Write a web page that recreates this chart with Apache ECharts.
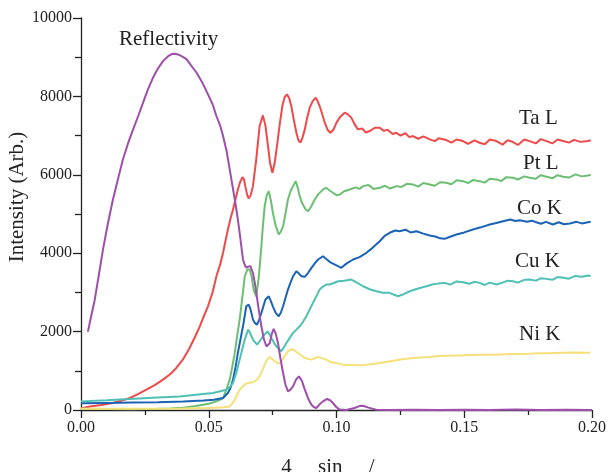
<!DOCTYPE html>
<html>
<head>
<meta charset="utf-8">
<script src="https://cdn.jsdelivr.net/npm/echarts@6/dist/echarts.min.js"></script>
<style>
html,body{margin:0;padding:0;background:#fff;}
#chart{width:610px;height:472px;}
</style>
</head>
<body>
<div id="chart"></div>
<script>
// ---- data (x = 4πsinθ/λ, y = intensity) ----
const xTicks = [0, 0.05, 0.10, 0.15, 0.20];
const yTicks = [0, 2000, 4000, 6000, 8000, 10000];
const seriesNames = ['Ta L', 'Pt L', 'Co K', 'Cu K', 'Ni K', 'Reflectivity'];

const reflectivity = [[0.0027,2000],[0.0040,2400],[0.0054,2820],[0.0070,3450],[0.0086,4090],[0.0105,4750],[0.0125,5370],[0.0145,5900],[0.0164,6390],[0.0184,6800],[0.0204,7160],[0.0224,7500],[0.0243,7840],[0.0262,8180],[0.0282,8480],[0.0300,8700],[0.0321,8900],[0.0340,9020],[0.0355,9080],[0.0367,9090],[0.0380,9070],[0.0395,9020],[0.0413,8950],[0.0430,8800],[0.0452,8610],[0.0475,8350],[0.0497,8050],[0.0515,7800],[0.0530,7500],[0.0545,7250],[0.0556,6990],[0.0570,6600],[0.0582,6140],[0.0592,5750],[0.0602,5370],[0.0612,4950],[0.0621,4520],[0.0628,4150],[0.0634,3840],[0.0641,3700],[0.0647,3630],[0.0655,3660],[0.0663,3670],[0.0673,3500],[0.0680,3250],[0.0686,2990],[0.0696,2550],[0.0706,2135],[0.0716,1800],[0.0726,1620],[0.0733,1650],[0.0739,1710],[0.0747,1950],[0.0754,2070],[0.0762,1950],[0.0771,1710],[0.0781,1300],[0.0791,945],[0.0800,650],[0.0810,475],[0.0820,520],[0.0830,603],[0.0842,780],[0.0853,858],[0.0865,740],[0.0876,518],[0.0890,280],[0.0902,135],[0.0912,70],[0.0921,51],[0.0935,150],[0.0947,220],[0.0963,281],[0.0975,250],[0.0986,179],[0.1000,70],[0.1013,10],[0.1039,0],[0.1070,50],[0.1090,100],[0.1104,110],[0.1125,60],[0.1156,5],[0.1200,0],[0.1300,5],[0.1400,0],[0.1500,5],[0.1600,0],[0.1700,10],[0.1800,0],[0.1900,5],[0.2000,0]];

const taL = [[0.000,40],[0.0034,90],[0.0080,130],[0.0125,180],[0.0160,240],[0.0191,306],[0.0225,410],[0.0256,518],[0.0290,640],[0.0321,774],[0.0350,920],[0.0373,1073],[0.0400,1300],[0.0425,1583],[0.0445,1850],[0.0465,2135],[0.0480,2380],[0.0497,2646],[0.0515,3000],[0.0530,3412],[0.0545,3720],[0.0556,4010],[0.0565,4300],[0.0575,4605],[0.0585,4880],[0.0595,5116],[0.0605,5380],[0.0614,5627],[0.0623,5820],[0.0632,5940],[0.0638,5880],[0.0643,5711],[0.0650,5500],[0.0656,5397],[0.0664,5480],[0.0673,5711],[0.0686,6400],[0.0699,7243],[0.0712,7516],[0.0722,7250],[0.0732,6733],[0.0740,6300],[0.0749,6053],[0.0758,6300],[0.0767,6733],[0.0778,7300],[0.0788,7754],[0.0797,7980],[0.0806,8053],[0.0815,7950],[0.0823,7754],[0.0833,7400],[0.0843,7074],[0.0851,6880],[0.0859,6819],[0.0867,6950],[0.0876,7159],[0.0885,7450],[0.0895,7713],[0.0907,7880],[0.0919,7968],[0.0926,7880],[0.0934,7754],[0.0944,7550],[0.0954,7330],[0.0965,7150],[0.0976,7074],[0.0988,7150],[0.1000,7330],[0.1015,7480],[0.1032,7585],[0.1045,7540],[0.1058,7458],[0.1070,7300],[0.1084,7159],[0.1100,7180],[0.1115,7080],[0.1130,7116],[0.1150,7200],[0.1169,7202],[0.1185,7120],[0.1200,7150],[0.1220,7040],[0.1234,7074],[0.1250,7000],[0.1270,7060],[0.1285,6960],[0.1299,6988],[0.1320,6920],[0.1340,6980],[0.1365,6903],[0.1385,6860],[0.1400,6930],[0.1430,6886],[0.1450,6820],[0.1470,6900],[0.1495,6860],[0.1515,6790],[0.1540,6880],[0.1560,6818],[0.1580,6780],[0.1600,6900],[0.1626,6860],[0.1650,6770],[0.1670,6880],[0.1691,6835],[0.1710,6760],[0.1735,6900],[0.1756,6860],[0.1780,6800],[0.1800,6910],[0.1822,6860],[0.1845,6800],[0.1865,6900],[0.1887,6860],[0.1910,6820],[0.1930,6890],[0.1955,6840],[0.1984,6860],[0.1995,6880]];

const ptL = [[0.000,30],[0.0100,25],[0.0200,20],[0.0300,30],[0.0350,40],[0.0400,60],[0.0450,100],[0.0500,160],[0.0530,220],[0.0556,300],[0.0569,518],[0.0582,774],[0.0592,1100],[0.0602,1456],[0.0611,1880],[0.0621,2306],[0.0631,2850],[0.0641,3412],[0.0651,3583],[0.0660,3583],[0.0668,3400],[0.0676,3050],[0.0686,2901],[0.0696,3400],[0.0706,4178],[0.0712,4700],[0.0719,5200],[0.0727,5480],[0.0735,5583],[0.0743,5350],[0.0751,5031],[0.0762,4700],[0.0774,4477],[0.0782,4550],[0.0791,4689],[0.0800,5000],[0.0810,5371],[0.0820,5580],[0.0830,5711],[0.0840,5838],[0.0848,5680],[0.0856,5455],[0.0864,5300],[0.0872,5200],[0.0880,5110],[0.0889,5072],[0.0900,5180],[0.0915,5371],[0.0928,5500],[0.0941,5583],[0.0950,5640],[0.0960,5668],[0.0973,5600],[0.0986,5541],[0.1000,5480],[0.1013,5498],[0.1030,5580],[0.1052,5626],[0.1075,5680],[0.1090,5640],[0.1104,5711],[0.1125,5740],[0.1145,5640],[0.1169,5668],[0.1190,5720],[0.1210,5650],[0.1234,5711],[0.1255,5690],[0.1275,5770],[0.1299,5754],[0.1320,5700],[0.1340,5790],[0.1365,5754],[0.1385,5720],[0.1405,5810],[0.1430,5796],[0.1450,5760],[0.1470,5860],[0.1495,5838],[0.1515,5790],[0.1535,5870],[0.1560,5838],[0.1580,5800],[0.1600,5900],[0.1626,5882],[0.1645,5840],[0.1665,5940],[0.1691,5925],[0.1710,5880],[0.1735,5960],[0.1756,5925],[0.1780,5900],[0.1800,5990],[0.1822,5950],[0.1845,5910],[0.1865,5990],[0.1887,5950],[0.1910,5930],[0.1935,6010],[0.1960,5960],[0.1984,5984],[0.1995,6000]];

const coK = [[0.000,170],[0.0100,180],[0.0200,190],[0.0300,200],[0.0400,215],[0.0480,240],[0.0520,263],[0.0556,306],[0.0575,434],[0.0585,560],[0.0595,774],[0.0605,1100],[0.0614,1456],[0.0624,1800],[0.0634,2135],[0.0647,2646],[0.0656,2689],[0.0662,2600],[0.0667,2477],[0.0673,2306],[0.0680,2222],[0.0689,2178],[0.0697,2300],[0.0706,2477],[0.0714,2650],[0.0722,2817],[0.0735,2901],[0.0743,2780],[0.0751,2646],[0.0762,2480],[0.0774,2390],[0.0782,2480],[0.0791,2646],[0.0800,2850],[0.0810,3072],[0.0820,3250],[0.0830,3412],[0.0843,3540],[0.0853,3480],[0.0863,3412],[0.0876,3397],[0.0889,3500],[0.0902,3627],[0.0915,3740],[0.0928,3839],[0.0947,3923],[0.0960,3850],[0.0973,3780],[0.0990,3720],[0.1006,3668],[0.1019,3627],[0.1040,3740],[0.1065,3839],[0.1090,3900],[0.1117,4010],[0.1140,4130],[0.1169,4306],[0.1190,4450],[0.1208,4521],[0.1230,4580],[0.1247,4561],[0.1270,4600],[0.1290,4530],[0.1313,4561],[0.1340,4500],[0.1365,4451],[0.1390,4420],[0.1405,4380],[0.1423,4367],[0.1445,4420],[0.1469,4477],[0.1500,4530],[0.1534,4605],[0.1565,4660],[0.1600,4733],[0.1625,4770],[0.1652,4817],[0.1680,4860],[0.1700,4820],[0.1717,4842],[0.1745,4800],[0.1765,4830],[0.1782,4791],[0.1800,4750],[0.1820,4800],[0.1847,4733],[0.1870,4790],[0.1890,4740],[0.1913,4758],[0.1940,4800],[0.1960,4760],[0.1984,4791],[0.1995,4800]];

const cuK = [[0.000,220],[0.0100,250],[0.0191,281],[0.0300,320],[0.0386,347],[0.0450,390],[0.0517,434],[0.0569,518],[0.0582,580],[0.0595,690],[0.0608,950],[0.0621,1285],[0.0631,1550],[0.0641,1796],[0.0654,2051],[0.0663,1950],[0.0673,1796],[0.0689,1668],[0.0700,1760],[0.0712,1880],[0.0730,2007],[0.0738,1930],[0.0745,1839],[0.0755,1720],[0.0765,1624],[0.0784,1497],[0.0794,1600],[0.0804,1711],[0.0817,1840],[0.0830,1967],[0.0843,2050],[0.0856,2135],[0.0869,2250],[0.0882,2390],[0.0895,2560],[0.0908,2733],[0.0921,2900],[0.0934,3072],[0.0947,3150],[0.0960,3200],[0.0973,3200],[0.0990,3240],[0.1006,3284],[0.1030,3300],[0.1058,3328],[0.1080,3250],[0.1104,3157],[0.1130,3080],[0.1156,3029],[0.1180,2990],[0.1208,2988],[0.1225,2940],[0.1241,2901],[0.1265,2960],[0.1287,3029],[0.1310,3080],[0.1330,3120],[0.1352,3157],[0.1375,3200],[0.1400,3230],[0.1423,3243],[0.1445,3200],[0.1470,3280],[0.1495,3259],[0.1520,3220],[0.1540,3270],[0.1560,3243],[0.1580,3190],[0.1600,3250],[0.1626,3200],[0.1650,3250],[0.1670,3300],[0.1691,3284],[0.1710,3250],[0.1735,3320],[0.1756,3328],[0.1780,3300],[0.1800,3360],[0.1822,3345],[0.1845,3320],[0.1865,3390],[0.1887,3371],[0.1910,3350],[0.1935,3420],[0.1960,3400],[0.1984,3430],[0.1995,3420]];

const niK = [[0.000,30],[0.0200,30],[0.0400,40],[0.0500,51],[0.0560,70],[0.0582,92],[0.0592,170],[0.0602,263],[0.0611,390],[0.0621,518],[0.0631,590],[0.0641,646],[0.0654,690],[0.0668,700],[0.0680,730],[0.0690,780],[0.0699,858],[0.0709,1000],[0.0719,1157],[0.0729,1290],[0.0739,1354],[0.0748,1300],[0.0758,1241],[0.0774,1183],[0.0784,1230],[0.0793,1328],[0.0801,1420],[0.0810,1497],[0.0827,1558],[0.0838,1510],[0.0849,1456],[0.0862,1390],[0.0876,1328],[0.0890,1300],[0.0902,1285],[0.0915,1320],[0.0928,1354],[0.0940,1330],[0.0954,1303],[0.0967,1260],[0.0980,1216],[0.1000,1200],[0.1025,1157],[0.1060,1150],[0.1104,1139],[0.1135,1170],[0.1169,1200],[0.1200,1230],[0.1234,1267],[0.1265,1300],[0.1299,1328],[0.1330,1340],[0.1365,1354],[0.1400,1375],[0.1430,1387],[0.1460,1390],[0.1495,1396],[0.1530,1405],[0.1560,1412],[0.1600,1410],[0.1626,1412],[0.1660,1425],[0.1691,1430],[0.1720,1430],[0.1756,1437],[0.1790,1445],[0.1822,1450],[0.1850,1455],[0.1887,1460],[0.1930,1465],[0.1984,1460],[0.1995,1470]];

const seriesData = [taL, ptL, coK, cuK, niK, reflectivity];
const colors = ['#ef4a4a', '#6cbf72', '#1a63b5', '#4fc0b4', '#f6e07a', '#9d4fa9'];

// ---- chart ----
const FONT = '"Liberation Serif", "Times New Roman", serif';
const chart = echarts.init(document.getElementById('chart'), null, {renderer: 'canvas'});

const series = seriesNames.map((name, i) => ({
  name: name,
  type: 'line',
  data: seriesData[i],
  showSymbol: false,
  symbol: 'none',
  smooth: false,
  lineStyle: {color: colors[i], width: 2},
  itemStyle: {color: colors[i]},
  z: 2 + i,
  animation: false
}));

const labelStyle = {fontFamily: FONT, fontSize: 21, fill: '#222'};
chart.setOption({
  backgroundColor: '#fff',
  animation: false,
  grid: {left: 81, right: 18, top: 18, bottom: 62, containLabel: false, outerBoundsMode: 'none'},
  xAxis: {
    type: 'value', min: 0, max: 0.2, interval: 0.05,
    name: '4     sin     /',
    nameLocation: 'middle', nameGap: 47, nameMoveOverlap: false,
    nameTextStyle: {fontFamily: FONT, fontSize: 21, color: '#222', padding: [0, 17, 0, 0]},
    axisLine: {lineStyle: {color: '#222', width: 1.3}},
    axisTick: {show: true, inside: false, length: 8, lineStyle: {color: '#222', width: 1.3}},
    minorTick: {show: true, splitNumber: 2, length: 5, lineStyle: {color: '#222', width: 1.3}},
    axisLabel: {fontFamily: FONT, fontSize: 16, color: '#222', margin: 10,
      formatter: v => v.toFixed(2)},
    splitLine: {show: false}
  },
  yAxis: {
    type: 'value', min: 0, max: 10000, interval: 2000,
    name: 'Intensity (Arb.)',
    nameLocation: 'middle', nameGap: 53, nameRotate: 90, nameMoveOverlap: false,
    nameTextStyle: {fontFamily: FONT, fontSize: 21, color: '#222', padding: [0, 0, 0, 34]},
    axisLine: {show: true, lineStyle: {color: '#222', width: 1.3}},
    axisTick: {show: true, inside: false, length: 8, lineStyle: {color: '#222', width: 1.3}},
    minorTick: {show: true, splitNumber: 2, length: 6, lineStyle: {color: '#222', width: 1.3}},
    axisLabel: {fontFamily: FONT, fontSize: 16, color: '#222', margin: 9,
      formatter: v => String(v)},
    splitLine: {show: false}
  },
  graphic: [
    {type: 'text', left: 119, top: 29, style: Object.assign({text: 'Reflectivity'}, labelStyle)},
    {type: 'text', left: 519, top: 108, style: Object.assign({text: 'Ta L'}, labelStyle)},
    {type: 'text', left: 523, top: 153, style: Object.assign({text: 'Pt L'}, labelStyle)},
    {type: 'text', left: 517, top: 198, style: Object.assign({text: 'Co K'}, labelStyle)},
    {type: 'text', left: 515, top: 251, style: Object.assign({text: 'Cu K'}, labelStyle)},
    {type: 'text', left: 519, top: 324, style: Object.assign({text: 'Ni K'}, labelStyle)}
  ],
  series: series
});
</script>
</body>
</html>
